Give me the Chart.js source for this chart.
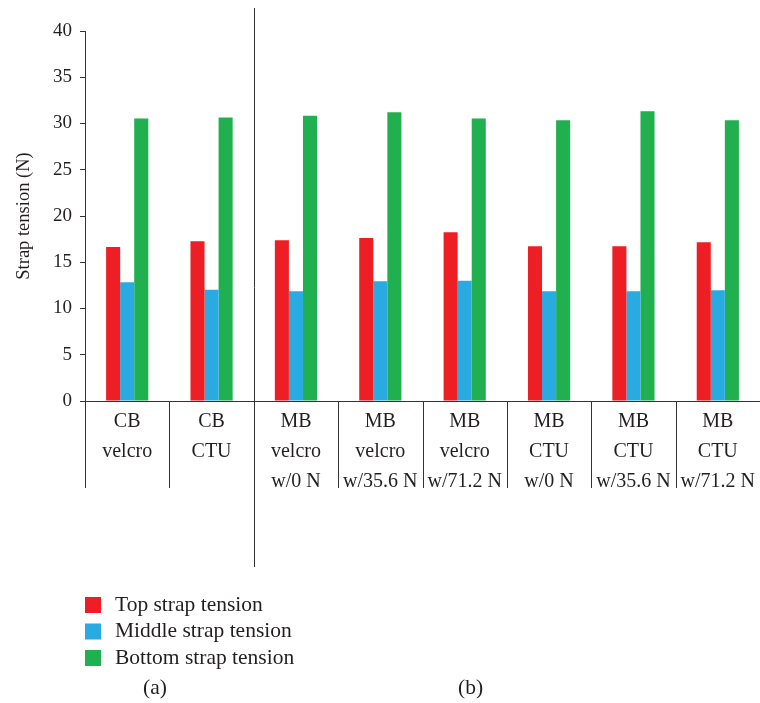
<!DOCTYPE html>
<html>
<head>
<meta charset="utf-8">
<script src="https://cdn.jsdelivr.net/npm/chart.js@4.4.0/dist/chart.umd.min.js"></script>
<style>
  html, body { margin: 0; padding: 0; background: #fff; }
</style>
</head>
<body>
<canvas id="myChart" width="760" height="703"></canvas>
<script>
// data
const categories = [
  ["CB", "velcro"],
  ["CB", "CTU"],
  ["MB", "velcro", "w/0 N"],
  ["MB", "velcro", "w/35.6 N"],
  ["MB", "velcro", "w/71.2 N"],
  ["MB", "CTU", "w/0 N"],
  ["MB", "CTU", "w/35.6 N"],
  ["MB", "CTU", "w/71.2 N"],
];
const topStrap = [16.65, 17.26, 17.37, 17.62, 18.24, 16.72, 16.72, 17.16];
const middleStrap = [12.83, 12.04, 11.86, 12.94, 13.0, 11.86, 11.86, 11.97];
const bottomStrap = [30.53, 30.64, 30.85, 31.21, 30.53, 30.35, 31.32, 30.35];
const seriesNames = ["Top strap tension", "Middle strap tension", "Bottom strap tension"];
const seriesColors = ["#ed1f24", "#29abe2", "#21b04f"];
const yMax = 40;
const yStep = 5;
const yTitle = "Strap tension (N)";
const panelLabels = ["(a)", "(b)"];

const serif = "'Liberation Serif', 'DejaVu Serif', serif";
const ink = "#231f20";

// box lines under the labels, the (a)/(b) separator, legend and panel labels
const extras = {
  id: "extras",
  afterDraw(chart) {
    const ctx = chart.ctx;
    const x = chart.scales.x;
    const area = chart.chartArea;
    ctx.save();
    ctx.strokeStyle = "#333";
    ctx.lineWidth = 1;
    for (let i = 0; i < categories.length; i++) {
      const bx = Math.round(x.getPixelForValue(i - 0.5)) + 0.5;
      ctx.beginPath();
      ctx.moveTo(bx, area.bottom);
      ctx.lineTo(bx, area.bottom + 87);
      ctx.stroke();
    }
    const sx = Math.round(x.getPixelForValue(1.5)) + 0.5;
    ctx.beginPath();
    ctx.moveTo(sx, 8);
    ctx.lineTo(sx, 567);
    ctx.stroke();

    ctx.font = "21.5px " + serif;
    ctx.textBaseline = "middle";
    ctx.textAlign = "left";
    chart.data.datasets.forEach((ds, i) => {
      const y = 605 + i * 26.5;
      ctx.fillStyle = ds.backgroundColor;
      ctx.fillRect(85, y - 8, 16, 16);
      ctx.fillStyle = ink;
      ctx.fillText(ds.label, 115, y);
    });
    ctx.fillText(panelLabels[0], 143, 688);
    ctx.fillText(panelLabels[1], 458, 688);
    ctx.restore();
  },
};

const ctx = document.getElementById("myChart").getContext("2d");
const myChart = new Chart(ctx, {
  type: "bar",
  data: {
    labels: categories,
    datasets: [topStrap, middleStrap, bottomStrap].map((d, i) => ({
      label: seriesNames[i],
      data: d,
      backgroundColor: seriesColors[i],
      borderWidth: 0,
      categoryPercentage: 0.5,
      barPercentage: 1.0,
    })),
  },
  options: {
    responsive: false,
    animation: false,
    layout: { padding: { top: 31, bottom: 200, left: 0, right: 0 } },
    plugins: {
      legend: { display: false },
      tooltip: { enabled: false },
    },
    scales: {
      x: {
        grid: { display: false },
        border: { display: true, color: "#333", width: 1 },
        ticks: {
          color: ink,
          font: { family: serif, size: 20, lineHeight: "30px" },
          padding: -2,
          maxRotation: 0,
          autoSkip: false,
        },
        afterFit: (s) => { s.height = 102; },
      },
      y: {
        min: 0,
        max: yMax,
        grid: { drawOnChartArea: false, drawTicks: true, tickLength: 5, color: "#333" },
        border: { display: true, color: "#333", width: 1 },
        ticks: {
          stepSize: yStep,
          color: ink,
          font: { family: serif, size: 19 },
          padding: 8,
        },
        title: {
          display: true,
          text: yTitle,
          color: ink,
          font: { family: serif, size: 18.5 },
          padding: { top: 13, bottom: 0 },
        },
        afterFit: (s) => { s.width = 85; },
      },
    },
  },
  plugins: [extras],
});
</script>
</body>
</html>
